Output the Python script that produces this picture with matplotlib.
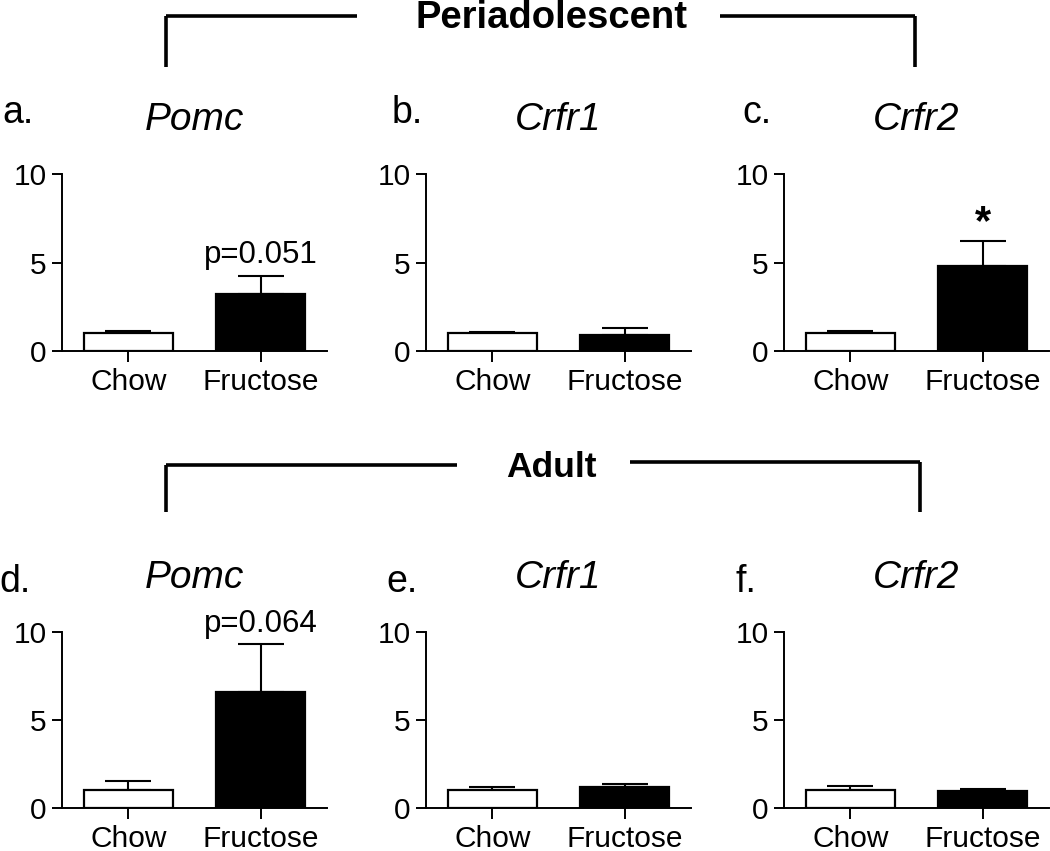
import matplotlib
matplotlib.use("Agg")
import matplotlib.pyplot as plt
from matplotlib.lines import Line2D

plt.rcParams['font.family'] = ['Liberation Sans', 'DejaVu Sans']

# Datos (media y error superior) por panel
grupos = ['Chow', 'Fructose']
letras = ['a.', 'b.', 'c.', 'd.', 'e.', 'f.']
genes = ['Pomc', 'Crfr1', 'Crfr2', 'Pomc', 'Crfr1', 'Crfr2']
medias = [
    [1.0, 3.2],
    [1.0, 0.88],
    [1.0, 4.8],
    [1.0, 6.6],
    [1.0, 1.2],
    [1.0, 0.97],
]
errores = [
    [0.15, 1.05],
    [0.08, 0.44],
    [0.15, 1.4],
    [0.55, 2.7],
    [0.22, 0.18],
    [0.25, 0.13],
]
anotaciones = ['p=0.051', '', '*', 'p=0.064', '', '']

W, H = 1050, 851
fig = plt.figure(figsize=(W / 100, H / 100), dpi=100)

# posiciones en pixeles: (izquierda del eje y, y=0, y=10)
izq = [62, 426, 784]
filas = [(351, 174), (808, 632)]
ancho = 265
letra_dx = [-60, -34, -42, -63, -40, -48]
letra_base = [123, 123, 123, 592, 592, 592]

for i in range(6):
    fila, col = divmod(i, 3)
    y0, y10 = filas[fila]
    ax = fig.add_axes([izq[col] / W, 1 - y0 / H, ancho / W, (y0 - y10) / H])
    x = [0, 1]
    ax.errorbar(x, medias[i], yerr=[[0, 0], errores[i]], fmt='none',
                ecolor='black', elinewidth=1.5, capsize=16.5, capthick=1.5,
                zorder=1)
    ax.bar(x, medias[i], width=0.67, color=['white', 'black'],
           edgecolor='black', linewidth=1.6, zorder=2)

    ax.set_xlim(-0.5, 1.5)
    ax.set_ylim(0, 10)
    ax.set_yticks([0, 5, 10])
    ax.set_xticks(x)
    ax.set_xticklabels(grupos)
    for s in ['top', 'right']:
        ax.spines[s].set_visible(False)
    for s in ['left', 'bottom']:
        ax.spines[s].set_linewidth(1.4)
    ax.tick_params(axis='y', labelsize=21.5, length=7, width=1.4, pad=4)
    ax.tick_params(axis='x', labelsize=21.5, length=8, width=1.4, pad=4)
    ax.patch.set_visible(False)

    ax.set_title(genes[i], fontsize=28, style='italic', pad=32)
    fig.text((izq[col] + letra_dx[i]) / W, 1 - letra_base[i] / H, letras[i],
             fontsize=27, va='baseline', ha='left')

    tope = medias[i][1] + errores[i][1]
    if anotaciones[i] == '*':
        ax.text(1, tope + 1.0, '*', fontsize=30,
                fontweight='bold', ha='center', va='center')
    elif anotaciones[i]:
        ax.text(1, tope + 0.72, anotaciones[i],
                fontsize=22.5, ha='center', va='baseline')


def corchete(x1, x2, y_top_izq, y_top_der, y_fin, gap1, gap2, texto, xt, base, size):
    kw = dict(color='black', linewidth=2.6, solid_capstyle='butt')
    puntos = [
        ([x1, x1], [y_fin, y_top_izq]),
        ([x1, gap1], [y_top_izq, y_top_izq]),
        ([gap2, x2], [y_top_der, y_top_der]),
        ([x2, x2], [y_top_der, y_fin]),
    ]
    for xs, ys in puntos:
        fig.add_artist(Line2D([v / W for v in xs], [1 - v / H for v in ys], **kw))
    fig.text(xt / W, 1 - base / H, texto, fontsize=size,
             fontweight='bold', ha='center', va='baseline')


corchete(166, 915, 16, 16, 67, 357, 720, 'Periadolescent', 552, 28, 27.5)
corchete(166, 920, 465, 462, 512, 457, 630, 'Adult', 551, 477, 25.5)

fig.savefig('out.png', dpi=100)
